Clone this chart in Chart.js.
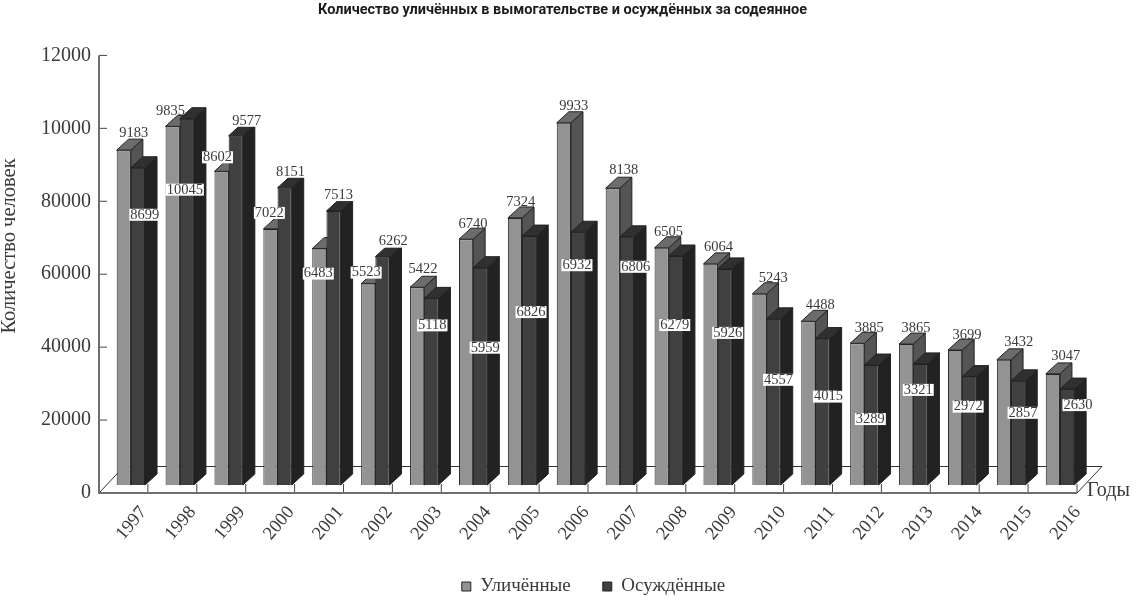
<!DOCTYPE html>
<html>
<head>
<meta charset="utf-8">
<title>Вымогательство</title>
<script src="https://cdn.jsdelivr.net/npm/chart.js@4"></script>
<style>
  html, body { margin: 0; padding: 0; background: #fff; }
  canvas { display: block; }
</style>
</head>
<body>
<canvas id="c" width="1136" height="604"></canvas>
<script>
const years = ['1997','1998','1999','2000','2001','2002','2003','2004','2005','2006','2007','2008','2009','2010','2011','2012','2013','2014','2015','2016'];
const caught = [9183,9835,8602,7022,6483,5523,5422,6740,7324,9933,8138,6505,6064,5243,4488,3885,3865,3699,3432,3047];
const convicted = [8699,10045,9577,8151,7513,6262,5118,5959,6826,6932,6806,6279,5926,4557,4015,3289,3321,2972,2857,2630];
// the printed axis really has these labels (80000 etc.), kept as in the source
const yTickLabels = ['0','20000','40000','60000','80000','10000','12000'];

// label placement relative to the left/top corner of each bar, [dx, dy] px
const caughtNudge = [[17,-17],[5,-15],[3,-14],[6,-16],[6,25],[5,-11],[13,-18],[14,-15],[13,-16],[17,-17],[18,-18],[14,-16],[15,-17],[21,-16],[19,-16],[19,-15],[17,-16],[19,-15],[22,-18],[20,-18]];
const convictedNudge = [[14,47],[5,71],[18,-15],[13,-16],[12,-16],[18,-15],[8,27],[12,80],[9,76],[6,33],[16,30],[6,69],[10,64],[12,61],[13,58],[6,54],[5,26],[6,30],[12,32],[18,16]];
const caughtBoxed = [2,3,4,5];

const SERIF = '"Liberation Serif", serif';
const COL = {
  text: '#3a3a3a', axis: '#6e6e6e', edge: '#222',
  caught: '#939393', caughtSide: '#545454', caughtTop: '#6c6c6c',
  convicted: '#404040', convictedSide: '#222222', convictedTop: '#303030',
};
const DEPTH_X = 12, DEPTH_Y = 11;   // bar depth
const SHIFT_X = 7.4, SHIFT_Y = -8;  // bars stand inside the floor, off the axes
const FLOOR_X = 25, FLOOR_Y = 26.5;

function poly(ctx, pts, fill) {
  ctx.beginPath();
  pts.forEach((p, i) => i ? ctx.lineTo(p[0], p[1]) : ctx.moveTo(p[0], p[1]));
  ctx.closePath();
  if (fill) { ctx.fillStyle = fill; ctx.fill(); }
  ctx.stroke();
}

const depth3d = {
  id: 'depth3d',
  afterLayout(chart) {
    // legend and title sit off-centre in the source
    chart.legend.left += 55; chart.legend.right += 55;
    chart.legend.top += 2; chart.legend.bottom += 2;
    chart.titleBlock.left += 24; chart.titleBlock.right += 24;
    // year labels are spaced a touch wider than the categories
    chart.scales.x.getLabelItems(chart.chartArea).forEach((it, i) => {
      it.options.translation[0] += (i - 19) * 0.26;
    });
  },
  beforeDatasetsDraw(chart) {
    const { ctx, chartArea: a, scales } = chart;
    const step = scales.x.getPixelForTick(1) - scales.x.getPixelForTick(0);
    ctx.save();
    ctx.lineWidth = 1;
    ctx.strokeStyle = '#333';
    poly(ctx, [[a.left, a.bottom], [a.left + FLOOR_X, a.bottom - FLOOR_Y], [a.right + FLOOR_X, a.bottom - FLOOR_Y], [a.right, a.bottom]]);
    // axis ticks point inwards
    ctx.strokeStyle = '#444';
    years.forEach((y, i) => {
      const px = scales.x.getPixelForTick(i) + step / 2;
      ctx.beginPath(); ctx.moveTo(px, a.bottom); ctx.lineTo(px, a.bottom - 9); ctx.stroke();
    });
    scales.y.ticks.forEach((t, i) => {
      const py = scales.y.getPixelForTick(i);
      ctx.beginPath(); ctx.moveTo(a.left, py); ctx.lineTo(a.left + 8, py); ctx.stroke();
    });
    ctx.lineWidth = 2;
    ctx.strokeStyle = COL.axis;
    ctx.beginPath();
    ctx.moveTo(a.left, a.top); ctx.lineTo(a.left, a.bottom); ctx.lineTo(a.right, a.bottom);
    ctx.stroke();

    ctx.translate(SHIFT_X, SHIFT_Y);
    ctx.lineWidth = 1;
    ctx.strokeStyle = COL.edge;
    years.forEach((y, i) => {
      [0, 1].forEach(ds => {
        const b = chart.getDatasetMeta(ds).data[i];
        const l = b.x - b.width / 2, r = b.x + b.width / 2;
        const side = ds ? COL.convictedSide : COL.caughtSide;
        const top = ds ? COL.convictedTop : COL.caughtTop;
        poly(ctx, [[r, b.y], [r + DEPTH_X, b.y - DEPTH_Y], [r + DEPTH_X, b.base - DEPTH_Y], [r, b.base]], side);
        poly(ctx, [[l, b.y], [l + DEPTH_X, b.y - DEPTH_Y], [r + DEPTH_X, b.y - DEPTH_Y], [r, b.y]], top);
      });
    });
    // left open on purpose, closed in afterDatasetsDraw so the fronts get the same shift
  },
  afterDatasetsDraw(chart) {
    const { ctx } = chart;
    ctx.restore();
    ctx.save();
    ctx.font = '14.5px ' + SERIF;
    ctx.textAlign = 'center';
    ctx.textBaseline = 'middle';
    const put = (ds, i, nudge, boxed) => {
      const b = chart.getDatasetMeta(ds).data[i];
      const x = b.x - b.width / 2 + SHIFT_X + nudge[0];
      const y = b.y + SHIFT_Y + nudge[1];
      const txt = String(ds ? convicted[i] : caught[i]);
      if (boxed) {
        const w = ctx.measureText(txt).width;
        ctx.fillStyle = '#fff';
        ctx.fillRect(x - w / 2 - 1, y - 6, w + 2, 12);
      }
      ctx.fillStyle = COL.text;
      ctx.fillText(txt, x, y);
    };
    years.forEach((y, i) => {
      put(0, i, caughtNudge[i], caughtBoxed.includes(i));
      put(1, i, convictedNudge[i], true);
    });

    ctx.fillStyle = COL.text;
    ctx.font = '20px ' + SERIF;
    ctx.textAlign = 'left';
    ctx.fillText('Годы', 1087, 491);
    ctx.font = '20.5px ' + SERIF;
    ctx.translate(10, 246);
    ctx.rotate(-Math.PI / 2);
    ctx.textAlign = 'center';
    ctx.fillText('Количество человек', 0, 0);
    ctx.restore();
  },
};

new Chart(document.getElementById('c'), {
  type: 'bar',
  data: {
    labels: years,
    datasets: [
      { label: 'Уличённые', data: caught, backgroundColor: COL.caught, borderColor: COL.edge, borderWidth: 1, clip: false },
      { label: 'Осуждённые', data: convicted, backgroundColor: COL.convicted, borderColor: COL.edge, borderWidth: 1, clip: false },
    ],
  },
  options: {
    responsive: false,
    animation: false,
    layout: { padding: { left: 0, right: 59, top: 0, bottom: 0 } },
    categoryPercentage: 0.58,
    barPercentage: 1,
    scales: {
      x: {
        grid: { display: false },
        border: { display: false },
        ticks: { color: COL.text, font: { family: SERIF, size: 18.5 }, maxRotation: 50, minRotation: 50, autoSkip: false, padding: 1, align: 'end', labelOffset: 25 },
        afterFit(s) { s.height = 111 - s.chart.legend.height; },
      },
      y: {
        min: 0, max: 12000,
        grid: { display: false },
        border: { display: false },
        ticks: { stepSize: 2000, color: COL.text, font: { family: SERIF, size: 20 }, padding: 0, callback: (v, i) => yTickLabels[i] },
        afterFit(s) { s.width = 99; },
      },
    },
    plugins: {
      title: {
        display: true,
        text: 'Количество уличённых в вымогательстве и осуждённых за содеянное',
        color: '#1c1c1c',
        font: { family: 'Roboto, sans-serif', size: 14.5, weight: 'bold', lineHeight: 1.2 },
        padding: { top: 2, bottom: 36 },
      },
      legend: {
        position: 'bottom',
        labels: { boxWidth: 9, boxHeight: 9, color: COL.text, font: { family: SERIF, size: 19 }, padding: 32 },
      },
      tooltip: { enabled: false },
    },
  },
  plugins: [depth3d],
});
</script>
</body>
</html>
